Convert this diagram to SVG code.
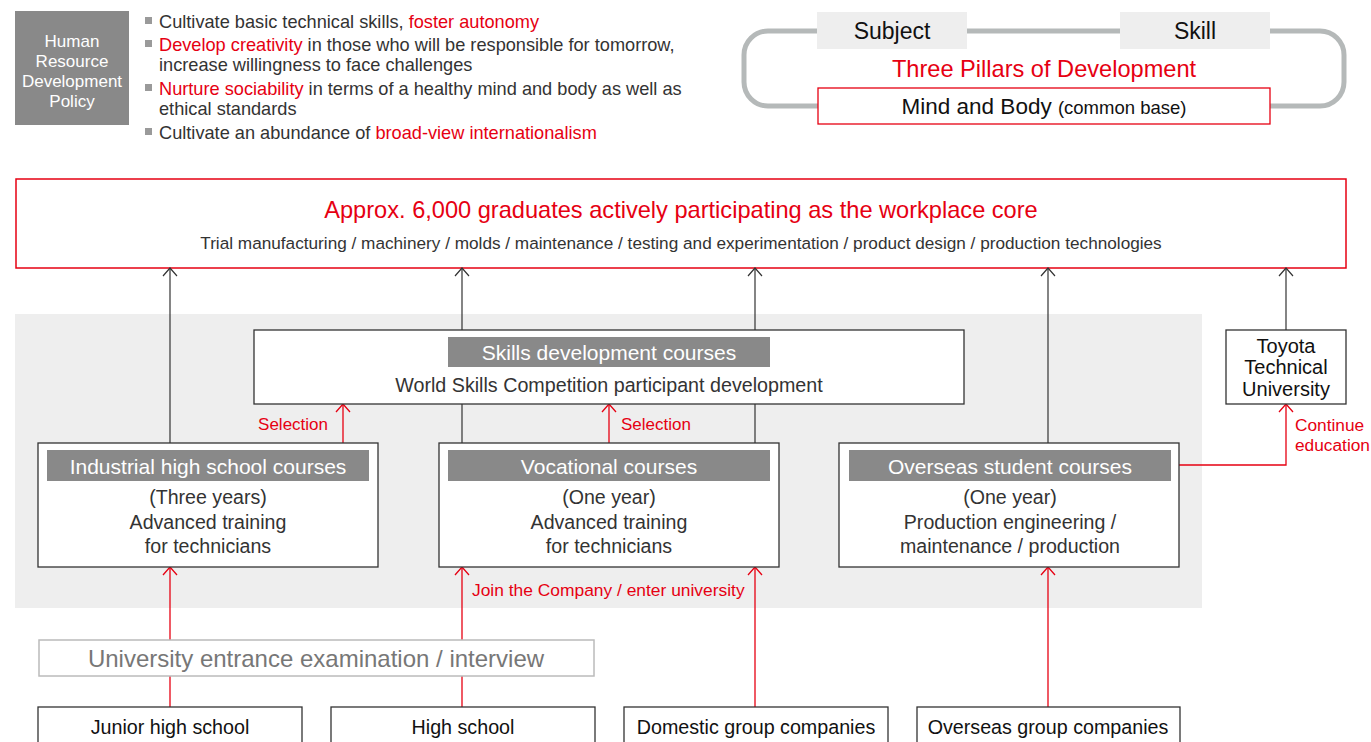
<svg xmlns="http://www.w3.org/2000/svg" width="1371" height="742" viewBox="0 0 1371 742">
<style>
text{font-family:"Liberation Sans",Arial,sans-serif;}
.dk{fill:#333;}
.rd{fill:#e60012;}
.wh{fill:#fff;}
.c{text-anchor:middle;}
.box{fill:#fff;stroke:#333;stroke-width:1.3;}
.hdr{fill:#898989;}
.bk{stroke:#333;stroke-width:1.2;fill:none;}
.rl{stroke:#e60012;stroke-width:1.3;fill:none;}
.bul{fill:#9a9a9a;}
</style>
<defs>
<marker id="ab" markerUnits="userSpaceOnUse" viewBox="-10 -9 12 18" refX="0" refY="0" markerWidth="12" markerHeight="18" orient="auto">
<path d="M-8,-7 L0,0 L-8,7" fill="none" stroke="#333" stroke-width="1.2"/>
</marker>
<marker id="ar" markerUnits="userSpaceOnUse" viewBox="-10 -9 12 18" refX="0" refY="0" markerWidth="12" markerHeight="18" orient="auto">
<path d="M-8,-7 L0,0 L-8,7" fill="none" stroke="#e60012" stroke-width="1.3"/>
</marker>
</defs>

<g id="policy">
<rect x="15" y="11" width="114" height="114" fill="#898989"/>
<text class="wh c" font-size="17" x="72" y="47">Human</text>
<text class="wh c" font-size="17" x="72" y="67">Resource</text>
<text class="wh c" font-size="17" x="72" y="87">Development</text>
<text class="wh c" font-size="17" x="72" y="107">Policy</text>
</g>

<g id="bullets" font-size="18.2">
<rect class="bul" x="145" y="17" width="7" height="7"/>
<text class="dk" x="159" y="27.5">Cultivate basic technical skills, <tspan class="rd">foster autonomy</tspan></text>
<rect class="bul" x="145" y="40" width="7" height="7"/>
<text class="dk" x="159" y="50.5"><tspan class="rd">Develop creativity</tspan> in those who will be responsible for tomorrow,</text>
<text class="dk" x="159" y="70.5">increase willingness to face challenges</text>
<rect class="bul" x="145" y="84" width="7" height="7"/>
<text class="dk" x="159" y="94.5"><tspan class="rd">Nurture sociability</tspan> in terms of a healthy mind and body as well as</text>
<text class="dk" x="159" y="114.5">ethical standards</text>
<rect class="bul" x="145" y="128" width="7" height="7"/>
<text class="dk" x="159" y="138.5">Cultivate an abundance of <tspan class="rd">broad-view internationalism</tspan></text>
</g>

<g id="pillars">
<rect x="744" y="31" width="600" height="75" rx="24" fill="none" stroke="#b5b9b9" stroke-width="5"/>
<rect x="817" y="12" width="150" height="37" fill="#eeeeee"/>
<text x="892" y="39" class="c" font-size="23" fill="#111">Subject</text>
<rect x="1120" y="12" width="150" height="37" fill="#eeeeee"/>
<text x="1195" y="39" class="c" font-size="23" fill="#111">Skill</text>
<text x="1044" y="76.5" class="c rd" font-size="23.6">Three Pillars of Development</text>
<rect x="818" y="88" width="452" height="36" fill="#fff" stroke="#e60012" stroke-width="1.3"/>
<text x="1044" y="114" class="c" font-size="22.5" fill="#111">Mind and Body <tspan font-size="18.5">(common base)</tspan></text>
</g>

<g id="graduates">
<rect x="16" y="179" width="1330" height="89" fill="#fff" stroke="#e60012" stroke-width="1.5"/>
<text x="681" y="218" class="c rd" font-size="23.6">Approx. 6,000 graduates actively participating as the workplace core</text>
<text x="681" y="249" class="c dk" font-size="17.2">Trial manufacturing / machinery / molds / maintenance / testing and experimentation / product design / production technologies</text>
</g>

<rect id="course-area" x="15" y="314" width="1187" height="294" fill="#eeeeee"/>

<g id="connectors">
<line class="bk" x1="170" y1="443" x2="170" y2="268" marker-end="url(#ab)"/>
<line class="bk" x1="462" y1="330" x2="462" y2="268" marker-end="url(#ab)"/>
<line class="bk" x1="755" y1="330" x2="755" y2="268" marker-end="url(#ab)"/>
<line class="bk" x1="1048" y1="443" x2="1048" y2="268" marker-end="url(#ab)"/>
<line class="bk" x1="1286" y1="330" x2="1286" y2="268" marker-end="url(#ab)"/>
<line class="bk" x1="462" y1="404" x2="462" y2="443"/>
<line class="bk" x1="755" y1="404" x2="755" y2="443"/>
<line class="rl" x1="343" y1="443" x2="343" y2="404" marker-end="url(#ar)"/>
<line class="rl" x1="609" y1="443" x2="609" y2="404" marker-end="url(#ar)"/>
<polyline class="rl" points="1179,465 1286,465 1286,404" marker-end="url(#ar)"/>
<line class="rl" x1="170" y1="707" x2="170" y2="567" marker-end="url(#ar)"/>
<line class="rl" x1="462" y1="707" x2="462" y2="567" marker-end="url(#ar)"/>
<line class="rl" x1="755" y1="707" x2="755" y2="567" marker-end="url(#ar)"/>
<line class="rl" x1="1048" y1="707" x2="1048" y2="567" marker-end="url(#ar)"/>
<text x="328" y="430" class="rd" font-size="17" text-anchor="end">Selection</text>
<text x="621" y="430" class="rd" font-size="17">Selection</text>
<text x="1295" y="431" class="rd" font-size="17.3">Continue</text>
<text x="1295" y="451" class="rd" font-size="17.3">education</text>
<text x="472" y="596" class="rd" font-size="17.4">Join the Company / enter university</text>
</g>

<g id="skills">
<rect class="box" x="254" y="330" width="710" height="74"/>
<rect class="hdr" x="448" y="337" width="322" height="30"/>
<text x="609" y="359.5" class="c wh" font-size="21">Skills development courses</text>
<text x="609" y="392" class="c dk" font-size="19.7">World Skills Competition participant development</text>
</g>

<g id="ttu">
<rect class="box" x="1226" y="330" width="120" height="74"/>
<text x="1286" y="353" class="c" font-size="20" fill="#111">Toyota</text>
<text x="1286" y="374" class="c" font-size="20" fill="#111">Technical</text>
<text x="1286" y="396" class="c" font-size="20" fill="#111">University</text>
</g>

<g id="industrial">
<rect class="box" x="38" y="443" width="340" height="124"/>
<rect class="hdr" x="47" y="450" width="322" height="31"/>
<text x="208" y="473.5" class="c wh" font-size="21">Industrial high school courses</text>
<text x="208" y="504" class="c dk" font-size="19.6">(Three years)</text>
<text x="208" y="529" class="c dk" font-size="19.6">Advanced training</text>
<text x="208" y="553" class="c dk" font-size="19.6">for technicians</text>
</g>

<g id="vocational">
<rect class="box" x="439" y="443" width="340" height="124"/>
<rect class="hdr" x="448" y="450" width="322" height="31"/>
<text x="609" y="473.5" class="c wh" font-size="21">Vocational courses</text>
<text x="609" y="504" class="c dk" font-size="19.6">(One year)</text>
<text x="609" y="529" class="c dk" font-size="19.6">Advanced training</text>
<text x="609" y="553" class="c dk" font-size="19.6">for technicians</text>
</g>

<g id="overseas-student">
<rect class="box" x="839" y="443" width="340" height="124"/>
<rect class="hdr" x="849" y="450" width="322" height="31"/>
<text x="1010" y="473.5" class="c wh" font-size="21">Overseas student courses</text>
<text x="1010" y="504" class="c dk" font-size="19.6">(One year)</text>
<text x="1010" y="529" class="c dk" font-size="19.6">Production engineering /</text>
<text x="1010" y="553" class="c dk" font-size="19.6">maintenance / production</text>
</g>

<g id="exam">
<rect x="39" y="640" width="555" height="36" fill="#fff" stroke="#bbbbbb" stroke-width="1.5"/>
<text x="316" y="666.5" class="c" font-size="24" fill="#777">University entrance examination / interview</text>
</g>

<g id="junior-high">
<rect class="box" x="38" y="707" width="264" height="60"/>
<text x="170" y="734" class="c" font-size="19.7" fill="#111">Junior high school</text>
</g>
<g id="high-school">
<rect class="box" x="331" y="707" width="264" height="60"/>
<text x="463" y="734" class="c" font-size="19.7" fill="#111">High school</text>
</g>
<g id="domestic">
<rect class="box" x="624" y="707" width="264" height="60"/>
<text x="756" y="734" class="c" font-size="19.7" fill="#111">Domestic group companies</text>
</g>
<g id="overseas-group">
<rect class="box" x="917" y="707" width="263" height="60"/>
<text x="1048" y="734" class="c" font-size="19.7" fill="#111">Overseas group companies</text>
</g>
</svg>
